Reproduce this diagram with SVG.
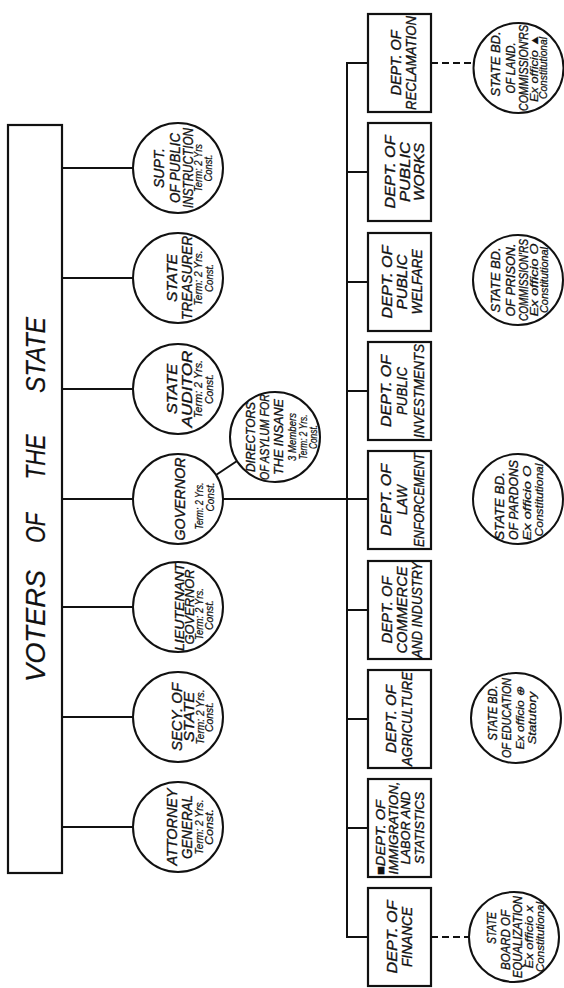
<svg xmlns="http://www.w3.org/2000/svg" width="564" height="988" viewBox="0 0 564 988">
<style>
.ln{stroke:#111;stroke-width:2;fill:none}
.dash{stroke:#111;stroke-width:2;fill:none;stroke-dasharray:7 4}
.box{fill:#fff;stroke:#111;stroke-width:2.2}
.c{fill:#fff;stroke:#111;stroke-width:2}
text{font-family:"Liberation Sans",Arial,sans-serif;font-style:italic;fill:#111;text-anchor:middle;stroke:#111;stroke-width:0.35}
.L{font-size:15px}
.M{font-size:13px}
.S{font-size:10.5px;stroke-width:0.25}
.V{font-size:28px;stroke-width:0.2}
</style>
<rect width="564" height="988" fill="#fff"/>
<g id="connectors">
<line class="ln" x1="62" y1="168" x2="133" y2="168"/>
<line class="ln" x1="62" y1="278" x2="133" y2="278"/>
<line class="ln" x1="62" y1="389" x2="133" y2="389"/>
<line class="ln" x1="62" y1="499" x2="133" y2="499"/>
<line class="ln" x1="62" y1="607" x2="133" y2="607"/>
<line class="ln" x1="62" y1="717" x2="133" y2="717"/>
<line class="ln" x1="62" y1="827" x2="133" y2="827"/>
<line class="ln" x1="216" y1="475" x2="237" y2="461"/>
<line class="ln" x1="223" y1="499" x2="368" y2="499"/>
<line class="ln" x1="347" y1="63" x2="347" y2="937"/>
<line class="ln" x1="346" y1="63" x2="368" y2="63"/>
<line class="ln" x1="347" y1="172" x2="368" y2="172"/>
<line class="ln" x1="347" y1="282" x2="368" y2="282"/>
<line class="ln" x1="347" y1="391" x2="368" y2="391"/>
<line class="ln" x1="347" y1="610" x2="368" y2="610"/>
<line class="ln" x1="347" y1="719" x2="368" y2="719"/>
<line class="ln" x1="347" y1="828" x2="368" y2="828"/>
<line class="ln" x1="346" y1="937" x2="368" y2="937"/>
<line class="dash" x1="431" y1="63" x2="474" y2="63"/>
<line class="dash" x1="431" y1="937" x2="469" y2="937"/>
</g>
<g id="voters">
<rect x="8" y="125" width="54" height="748" fill="#fff" stroke="#111" stroke-width="2.2"/>
<g transform="translate(35,500) rotate(-90)">
<text class="V" x="-126" y="10" textLength="112" lengthAdjust="spacingAndGlyphs">VOTERS</text>
<text class="V" x="-28" y="10" textLength="30" lengthAdjust="spacingAndGlyphs">OF</text>
<text class="V" x="43" y="10" textLength="45" lengthAdjust="spacingAndGlyphs">THE</text>
<text class="V" x="145" y="10" textLength="76" lengthAdjust="spacingAndGlyphs">STATE</text>
</g>
</g>
<g id="supt">
<circle class="c" cx="178" cy="168" r="45"/>
<g transform="translate(178,168) rotate(-90)">
<text class="L" y="-14" textLength="40" lengthAdjust="spacingAndGlyphs">SUPT.</text>
<text class="L" y="2" textLength="70" lengthAdjust="spacingAndGlyphs">OF PUBLIC</text>
<text class="L" y="15" textLength="80" lengthAdjust="spacingAndGlyphs">INSTRUCTION</text>
<text class="S" y="24" textLength="48" lengthAdjust="spacingAndGlyphs">Term: 2 Yrs</text>
<text class="S" y="34" textLength="27" lengthAdjust="spacingAndGlyphs">Const.</text>
</g>
</g>
<g id="treasurer">
<circle class="c" cx="178" cy="278" r="45"/>
<g transform="translate(178,278) rotate(-90)">
<text class="L" y="-1" textLength="48" lengthAdjust="spacingAndGlyphs">STATE</text>
<text class="L" y="14" textLength="84" lengthAdjust="spacingAndGlyphs">TREASURER</text>
<text class="S" y="24" textLength="55" lengthAdjust="spacingAndGlyphs">Term: 2 Yrs.</text>
<text class="S" y="35" textLength="28" lengthAdjust="spacingAndGlyphs">Const.</text>
</g>
</g>
<g id="auditor">
<circle class="c" cx="178" cy="389" r="45"/>
<g transform="translate(178,389) rotate(-90)">
<text class="L" y="-1" textLength="50" lengthAdjust="spacingAndGlyphs">STATE</text>
<text class="L" y="14" textLength="77" lengthAdjust="spacingAndGlyphs">AUDITOR</text>
<text class="S" y="24" textLength="58" lengthAdjust="spacingAndGlyphs">Term: 2 Yrs.</text>
<text class="S" y="35" textLength="30" lengthAdjust="spacingAndGlyphs">Const.</text>
</g>
</g>
<g id="governor">
<circle class="c" cx="178" cy="499" r="45"/>
<g transform="translate(178,499) rotate(-90)">
<text class="L" y="7" font-size="17" textLength="83" lengthAdjust="spacingAndGlyphs">GOVERNOR</text>
<text class="S" x="-7" y="25" font-size="11" textLength="47" lengthAdjust="spacingAndGlyphs">Term: 2 Yrs.</text>
<text class="S" x="2" y="36" font-size="11" textLength="29" lengthAdjust="spacingAndGlyphs">Const.</text>
</g>
</g>
<g id="lieutenant">
<circle class="c" cx="178" cy="607" r="45"/>
<g transform="translate(178,607) rotate(-90)">
<text class="M" y="6" textLength="88" lengthAdjust="spacingAndGlyphs">LIEUTENANT</text>
<text class="M" y="16" textLength="75" lengthAdjust="spacingAndGlyphs">GOVERNOR</text>
<text class="S" x="-7" y="25" textLength="52" lengthAdjust="spacingAndGlyphs">Term: 2 Yrs.</text>
<text class="S" x="-8" y="35" textLength="30" lengthAdjust="spacingAndGlyphs">Const.</text>
</g>
</g>
<g id="secy">
<circle class="c" cx="178" cy="717" r="45"/>
<g transform="translate(178,717) rotate(-90)">
<text class="L" y="4" textLength="68" lengthAdjust="spacingAndGlyphs">SECY. OF</text>
<text class="L" y="16" textLength="50" lengthAdjust="spacingAndGlyphs">STATE</text>
<text class="S" y="26" textLength="55" lengthAdjust="spacingAndGlyphs">Term: 2 Yrs.</text>
<text class="S" y="35" textLength="30" lengthAdjust="spacingAndGlyphs">Const.</text>
</g>
</g>
<g id="attorney">
<circle class="c" cx="178" cy="827" r="45"/>
<g transform="translate(178,827) rotate(-90)">
<text class="L" y="-1" textLength="77" lengthAdjust="spacingAndGlyphs">ATTORNEY</text>
<text class="L" y="14" textLength="64" lengthAdjust="spacingAndGlyphs">GENERAL</text>
<text class="S" y="25" textLength="55" lengthAdjust="spacingAndGlyphs">Term: 2 Yrs.</text>
<text class="S" y="35" textLength="36" lengthAdjust="spacingAndGlyphs">Const.</text>
</g>
</g>
<g id="directors">
<circle class="c" cx="275" cy="437" r="45"/>
<g transform="translate(275,437) rotate(-90)">
<text class="M" y="-20" textLength="70" lengthAdjust="spacingAndGlyphs">DIRECTORS</text>
<text class="M" y="-6" textLength="86" lengthAdjust="spacingAndGlyphs">OF ASYLUM FOR</text>
<text class="M" y="8" textLength="76" lengthAdjust="spacingAndGlyphs">THE INSANE</text>
<text class="S" y="21" textLength="48" lengthAdjust="spacingAndGlyphs">3 Members</text>
<text class="S" y="32" textLength="45" lengthAdjust="spacingAndGlyphs">Term: 2 Yrs.</text>
<text class="S" y="42" textLength="24" lengthAdjust="spacingAndGlyphs">Const.</text>
</g>
</g>
<g id="reclamation">
<rect class="box" x="368" y="14" width="63" height="98"/>
<g transform="translate(399.5,63) rotate(-90)">
<text class="L" y="1" textLength="65" lengthAdjust="spacingAndGlyphs">DEPT. OF</text>
<text class="L" y="16" textLength="94" lengthAdjust="spacingAndGlyphs">RECLAMATION</text>
</g>
</g>
<g id="publicworks">
<rect class="box" x="368" y="123" width="63" height="98"/>
<g transform="translate(399.5,172) rotate(-90)">
<text class="L" y="-4.5" textLength="73" lengthAdjust="spacingAndGlyphs">DEPT. OF</text>
<text class="L" y="10.5" textLength="60" lengthAdjust="spacingAndGlyphs">PUBLIC</text>
<text class="L" y="24.5" textLength="58" lengthAdjust="spacingAndGlyphs">WORKS</text>
</g>
</g>
<g id="welfare">
<rect class="box" x="368" y="233" width="63" height="98"/>
<g transform="translate(399.5,282) rotate(-90)">
<text class="L" y="-7.5" textLength="73" lengthAdjust="spacingAndGlyphs">DEPT. OF</text>
<text class="L" y="7.5" textLength="55" lengthAdjust="spacingAndGlyphs">PUBLIC</text>
<text class="L" y="22.5" textLength="65" lengthAdjust="spacingAndGlyphs">WELFARE</text>
</g>
</g>
<g id="investments">
<rect class="box" x="368" y="342" width="63" height="98"/>
<g transform="translate(399.5,391) rotate(-90)">
<text class="L" y="-8.5" textLength="72" lengthAdjust="spacingAndGlyphs">DEPT. OF</text>
<text class="L" y="7.5" textLength="48" lengthAdjust="spacingAndGlyphs">PUBLIC</text>
<text class="L" y="24.5" textLength="94" lengthAdjust="spacingAndGlyphs">INVESTMENTS</text>
</g>
</g>
<g id="law">
<rect class="box" x="368" y="451" width="63" height="98"/>
<g transform="translate(399.5,500) rotate(-90)">
<text class="L" y="-8.5" textLength="72" lengthAdjust="spacingAndGlyphs">DEPT. OF</text>
<text class="L" y="7.5" textLength="30" lengthAdjust="spacingAndGlyphs">LAW</text>
<text class="L" y="24.5" textLength="94" lengthAdjust="spacingAndGlyphs">ENFORCEMENT</text>
</g>
</g>
<g id="commerce">
<rect class="box" x="368" y="561" width="63" height="98"/>
<g transform="translate(399.5,610) rotate(-90)">
<text class="L" y="-7.5" textLength="67" lengthAdjust="spacingAndGlyphs">DEPT. OF</text>
<text class="L" y="7.5" textLength="87" lengthAdjust="spacingAndGlyphs">COMMERCE</text>
<text class="L" y="22.5" textLength="96" lengthAdjust="spacingAndGlyphs">AND INDUSTRY</text>
</g>
</g>
<g id="agriculture">
<rect class="box" x="368" y="670" width="63" height="98"/>
<g transform="translate(399.5,719) rotate(-90)">
<text class="L" y="-3.5" textLength="68" lengthAdjust="spacingAndGlyphs">DEPT. OF</text>
<text class="L" y="12.5" textLength="94" lengthAdjust="spacingAndGlyphs">AGRICULTURE</text>
</g>
</g>
<g id="immigration">
<rect class="box" x="368" y="779" width="63" height="98"/>
<g transform="translate(399.5,828) rotate(-90)">
<text class="M" x="-9.5" y="-14.5" textLength="75" lengthAdjust="spacingAndGlyphs">■DEPT. OF</text>
<text class="M" y="-1.5" textLength="93" lengthAdjust="spacingAndGlyphs">IMMIGRATION,</text>
<text class="M" y="10.5" textLength="73" lengthAdjust="spacingAndGlyphs">LABOR AND</text>
<text class="M" y="24.5" textLength="72" lengthAdjust="spacingAndGlyphs">STATISTICS</text>
</g>
</g>
<g id="finance">
<rect class="box" x="368" y="888" width="63" height="98"/>
<g transform="translate(399.5,937) rotate(-90)">
<text class="L" y="-2.5" textLength="73" lengthAdjust="spacingAndGlyphs">DEPT. OF</text>
<text class="L" y="12.5" textLength="60" lengthAdjust="spacingAndGlyphs">FINANCE</text>
</g>
</g>
<g id="landcommissioners">
<circle class="c" cx="518.5" cy="68" r="45"/>
<g transform="translate(518.5,68) rotate(-90)">
<text class="M" x="4" y="-18.5" font-size="14" textLength="65" lengthAdjust="spacingAndGlyphs">STATE BD.</text>
<text class="M" y="-3.5" font-size="14" textLength="51" lengthAdjust="spacingAndGlyphs">OF LAND.</text>
<text class="M" y="9.5" font-size="12" textLength="86" lengthAdjust="spacingAndGlyphs">COMMISSION'RS</text>
<text class="S" y="19.5" textLength="68" lengthAdjust="spacingAndGlyphs">Ex officio ▲</text>
<text class="S" y="28.5" font-size="9.5" textLength="62" lengthAdjust="spacingAndGlyphs">Constitutional</text>
</g>
</g>
<g id="prisoncommissioners">
<circle class="c" cx="518" cy="280" r="45"/>
<g transform="translate(518,280) rotate(-90)">
<text class="M" y="-18" font-size="14" textLength="65" lengthAdjust="spacingAndGlyphs">STATE BD.</text>
<text class="M" y="-3" font-size="14" textLength="73" lengthAdjust="spacingAndGlyphs">OF PRISON.</text>
<text class="M" y="9.5" font-size="12" textLength="82" lengthAdjust="spacingAndGlyphs">COMMISSION'RS</text>
<text class="S" y="19.5" textLength="73" lengthAdjust="spacingAndGlyphs">Ex officio O</text>
<text class="S" y="29.5" font-size="9.5" textLength="66" lengthAdjust="spacingAndGlyphs">Constitutional</text>
</g>
</g>
<g id="pardons">
<circle class="c" cx="518" cy="499" r="45"/>
<g transform="translate(518,499) rotate(-90)">
<text class="M" x="-7" y="-14" font-size="14" textLength="68" lengthAdjust="spacingAndGlyphs">STATE BD.</text>
<text class="M" x="-1" y="0" font-size="14" textLength="80" lengthAdjust="spacingAndGlyphs">OF PARDONS</text>
<text class="S" x="-4" y="13" font-size="12" textLength="75" lengthAdjust="spacingAndGlyphs">Ex officio O</text>
<text class="S" x="-1" y="25" font-size="12" textLength="73" lengthAdjust="spacingAndGlyphs">Constitutional</text>
</g>
</g>
<g id="education">
<circle class="c" cx="516" cy="718" r="45"/>
<g transform="translate(516,718) rotate(-90)">
<text class="M" x="5" y="-19" font-size="14" textLength="55" lengthAdjust="spacingAndGlyphs">STATE BD.</text>
<text class="M" y="-5" font-size="13" textLength="80" lengthAdjust="spacingAndGlyphs">OF EDUCATION</text>
<text class="S" y="8" font-size="11.5" textLength="63" lengthAdjust="spacingAndGlyphs">Ex officio ⊕</text>
<text class="S" y="20" font-size="11.5" textLength="53" lengthAdjust="spacingAndGlyphs">Statutory</text>
</g>
</g>
<g id="equalization">
<circle class="c" cx="514" cy="937" r="45"/>
<g transform="translate(514,937) rotate(-90)">
<text class="M" x="9" y="-18" font-size="14" textLength="32" lengthAdjust="spacingAndGlyphs">STATE</text>
<text class="M" x="-3" y="-4" font-size="14" textLength="60" lengthAdjust="spacingAndGlyphs">BOARD OF</text>
<text class="M" y="8" font-size="12" textLength="82" lengthAdjust="spacingAndGlyphs">EQUALIZATION</text>
<text class="S" y="19" font-size="11" textLength="63" lengthAdjust="spacingAndGlyphs">Ex officio x</text>
<text class="S" y="30" font-size="10" textLength="70" lengthAdjust="spacingAndGlyphs">Constitutional</text>
</g>
</g>
</svg>
